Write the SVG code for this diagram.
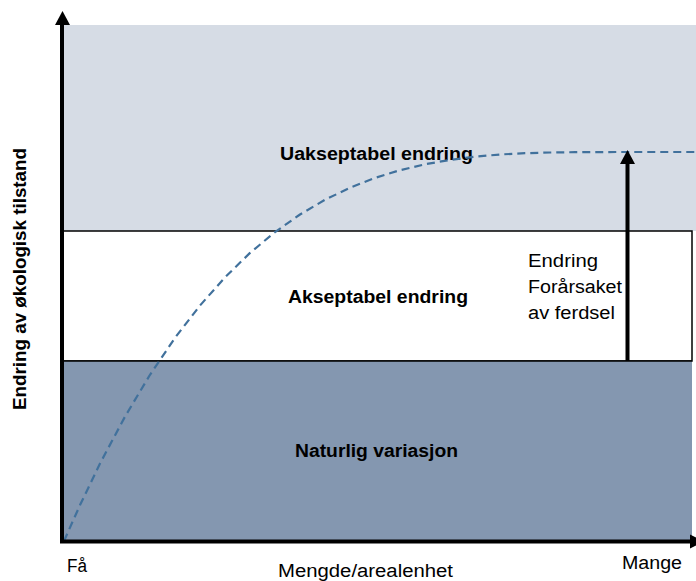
<svg xmlns="http://www.w3.org/2000/svg" width="696" height="581" viewBox="0 0 696 581">
<style>
.lbl{font-family:"Liberation Sans",Arial,sans-serif;fill:#000}
.b{font-weight:bold;font-size:18px}
.r{font-size:18px}
</style>
<rect width="696" height="581" fill="#fff"/>
<g id="zone-unacceptable">
<rect x="63" y="25" width="633" height="206" fill="#d6dce5"/>
<text class="lbl b" x="280" y="160" textLength="193" lengthAdjust="spacingAndGlyphs">Uakseptabel endring</text>
</g>
<g id="zone-acceptable">
<rect x="63" y="231" width="629" height="130" fill="#fff" stroke="#000" stroke-width="1.5"/>
<text class="lbl b" x="288" y="303" textLength="180" lengthAdjust="spacingAndGlyphs">Akseptabel endring</text>
</g>
<g id="zone-natural">
<rect x="63" y="361" width="629" height="179" fill="#8497b0"/>
<line x1="63" y1="361" x2="692" y2="361" stroke="#000" stroke-width="1.5"/>
<text class="lbl b" x="295" y="457" textLength="163" lengthAdjust="spacingAndGlyphs">Naturlig variasjon</text>
</g>
<g id="connectors">
<path d="M64,541 L80,505.1 L100,463.5 L125,416.6 L150,374.8 L175,337.8 L200,305.5 L225,277.3 L250,252.9 L275,232.1 L300,214.5 L325,199.8 L350,187.7 L375,177.9 L400,170.2 L425,164.3 L450,159.9 L475,156.7 L500,154.5 L525,153.2 L550,152.5 L575,152.2 L600,152.05 L625,152 L696,152" fill="none" stroke="#41719c" stroke-width="2.2" stroke-dasharray="8,5" stroke-linejoin="round"/>
<line x1="627.5" y1="361" x2="627.5" y2="162" stroke="#000" stroke-width="4"/>
<polygon points="620,164 627.5,150 635,164" fill="#000"/>
<line x1="62" y1="543" x2="62" y2="24" stroke="#000" stroke-width="4"/>
<polygon points="55,25 62.5,11 70,25" fill="#000"/>
<line x1="60" y1="541.5" x2="690" y2="541.5" stroke="#000" stroke-width="4"/>
<polygon points="690,534.5 704,541.5 690,548.5" fill="#000"/>
</g>
<g id="annotation">
<text class="lbl r" x="528" y="267" textLength="70" lengthAdjust="spacingAndGlyphs">Endring</text>
<text class="lbl r" x="528" y="293" textLength="94" lengthAdjust="spacingAndGlyphs">Forårsaket</text>
<text class="lbl r" x="528" y="319" textLength="87" lengthAdjust="spacingAndGlyphs">av ferdsel</text>
</g>
<g id="axis-labels">
<text class="lbl" font-size="18" font-weight="bold" transform="translate(26,410) rotate(-90)" textLength="262" lengthAdjust="spacingAndGlyphs">Endring av økologisk tilstand</text>
<text class="lbl" font-size="18" x="67" y="572" textLength="20" lengthAdjust="spacingAndGlyphs">Få</text>
<text class="lbl" font-size="18" x="622" y="569" textLength="60" lengthAdjust="spacingAndGlyphs">Mange</text>
<text class="lbl" font-size="18" x="278" y="577" textLength="175" lengthAdjust="spacingAndGlyphs">Mengde/arealenhet</text>
</g>
</svg>
